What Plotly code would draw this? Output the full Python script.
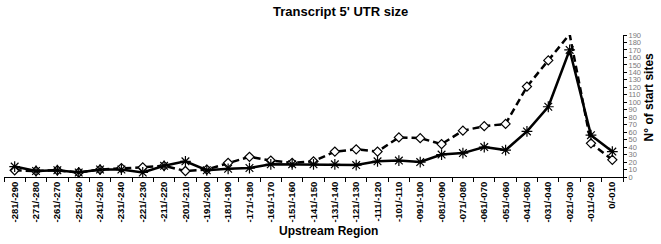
import plotly.graph_objects as go

categories = ["-281/-290", "-271/-280", "-261/-270", "-251/-260", "-241/-250", "-231/-240",
              "-221/-230", "-211/-220", "-201/-210", "-191/-200", "-181/-190", "-171/-180",
              "-161/-170", "-151/-160", "-141/-150", "-131/-140", "-121/-130", "-111/-120",
              "-101/-110", "-091/-100", "-081/-090", "-071/-080", "-061/-070", "-051/-060",
              "-041/-050", "-031/-040", "-021/-030", "-011/-020", "0/-010"]

solid_values = [14, 8, 9, 6, 10, 10, 6, 15, 21, 9, 11, 12, 17, 17, 17, 17, 16, 21, 22, 20,
                30, 32, 40, 36, 61, 94, 170, 56, 34]
dashed_values = [9, 8, 9, 6, 10, 12, 13, 15, 8, 10, 19, 27, 22, 19, 21, 34, 37, 34, 53, 52,
                 44, 62, 68, 71, 121, 156, 191, 45, 23]

y_ticks = list(range(0, 200, 10))

L, R, T, B = 3.5, 37.5, 34.7, 66.5
W, H = 661, 244
plot_w = W - L - R
plot_h = H - T - B


def px_x(x):
    return (x - L) / plot_w


def px_y(y_from_top):
    return (H - y_from_top - B) / plot_h


fig = go.Figure()
fig.add_trace(go.Scatter(
    x=categories, y=dashed_values, mode="lines+markers",
    line=dict(color="black", width=2.5, dash="7px,4px"),
    marker=dict(symbol="diamond", size=7, color="white", line=dict(color="black", width=1.2)),
    cliponaxis=False, showlegend=False))
fig.add_trace(go.Scatter(
    x=categories, y=solid_values, mode="lines+markers",
    line=dict(color="black", width=2.5),
    marker=dict(symbol="asterisk-open", size=9, color="black", line=dict(color="black", width=1.2)),
    cliponaxis=False, showlegend=False))

fig.update_layout(
    width=W, height=H,
    margin=dict(l=L, r=R, t=T, b=B),
    paper_bgcolor="white", plot_bgcolor="white",
    font=dict(family="Liberation Sans, Arial, sans-serif", color="black"),
    xaxis=dict(
        type="category", range=[-0.5, len(categories) - 0.5], automargin=False,
        showgrid=False, zeroline=False, showline=True, linecolor="black", linewidth=1,
        ticks="outside", tickson="boundaries", ticklen=4, tickcolor="black", tickwidth=1,
        tickangle=-90, tickfont=dict(size=9.5, color="black", weight="bold"),
    ),
    yaxis=dict(
        side="right", range=[0, 190], tickvals=y_ticks, automargin=False,
        showgrid=False, zeroline=False, showline=True, linecolor="black", linewidth=1,
        ticks="outside", ticklen=3, tickcolor="black", tickwidth=1,
        tickfont=dict(size=7.5, color="#7a7a7a"),
    ),
    annotations=[
        dict(text="<b>Transcript 5' UTR size</b>", x=px_x(341), y=px_y(11),
             xref="paper", yref="paper", xanchor="center", yanchor="middle",
             showarrow=False, font=dict(size=13)),
        dict(text="<b>Upstream Region</b>", x=px_x(329), y=px_y(232),
             xref="paper", yref="paper", xanchor="center", yanchor="middle",
             showarrow=False, font=dict(size=12)),
        dict(text="<b>N° of start sites</b>", x=px_x(649), y=px_y(97),
             xref="paper", yref="paper", xanchor="center", yanchor="middle",
             showarrow=False, textangle=-90, font=dict(size=12)),
    ],
)

fig.write_html("out.html", config={"displayModeBar": False},
               post_script="document.body.style.margin='0';document.body.style.overflow='hidden';")
